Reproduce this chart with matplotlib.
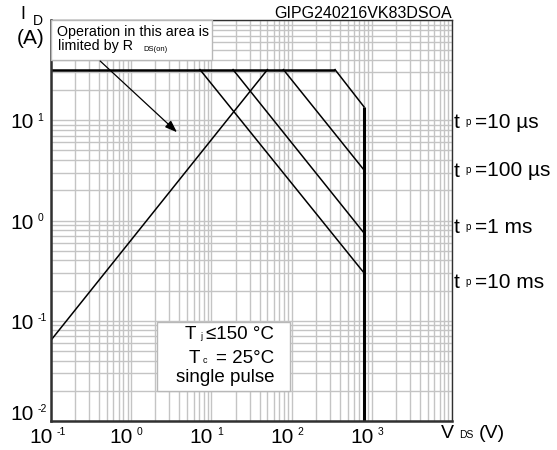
import numpy as np
import matplotlib
matplotlib.use('Agg')
import matplotlib.pyplot as plt
from matplotlib.ticker import LogLocator, NullFormatter
from matplotlib.patches import Rectangle

plt.rcParams['font.family'] = ['Liberation Sans', 'DejaVu Sans']

# valores
i_max = 32.0                 # limite de corrente (A)
v_max = 800.0                # limite de tensao (V)
i_lim_v = [0.1, 348]         # trecho horizontal do limite de corrente
rds_v = [0.1, 50]            # limite por R_DS(on)
rds_i = [0.064, 32]
tp_names = ['10 µs', '100 µs', '1 ms', '10 ms']
tp_v_knee = [348, 79, 18.6, 7.2]     # onde sai do limite de corrente
tp_i_end = [13.6, 3.19, 0.75, 0.30]  # corrente em V = v_max
tp_label_i = [8.3, 2.74, 0.745, 0.21]
i_min = 0.01

x_ticks = [1e-1, 1e0, 1e1, 1e2, 1e3, 1e4]
x_exps = ['-1', '0', '1', '2', '3', None]
y_ticks = [1e-2, 1e-1, 1e0, 1e1, 1e2]
y_exps = ['-2', '-1', '0', '1', None]

DESC = 0.21  # descida relativa da fonte (fracao do tamanho)


def rich(x, y, parts, xycoords, dx=0, dy=0, ha='left', **kw):
    """texto em pedacos com tamanhos/alturas diferentes (indices)
    parts: (texto, tamanho, subida_pt, espaco_pt)"""
    t0, fs0, r0, _ = parts[0]
    prev = ax.annotate(t0, xy=(x, y), xycoords=xycoords, xytext=(dx, dy + r0),
                       textcoords='offset points', fontsize=fs0, ha=ha,
                       va='baseline', **kw)
    pfs, pr = fs0, r0
    for t, fs, r, g in parts[1:]:
        prev = ax.annotate(t, xy=(1, 0), xycoords=prev,
                           xytext=(g, r - pr + DESC*pfs), textcoords='offset points',
                           fontsize=fs, ha='left', va='baseline', **kw)
        pfs, pr = fs, r
    return prev


fig = plt.figure(figsize=(5.57, 4.5), dpi=100)
ax = fig.add_axes([51/557, 29/450, 401/557, 401/450])
ax.set_xscale('log')
ax.set_yscale('log')
ax.set_xlim(0.1, 1e4)
ax.set_ylim(0.01, 100)

ax.xaxis.set_minor_locator(LogLocator(base=10, subs=np.arange(2, 10), numticks=20))
ax.yaxis.set_minor_locator(LogLocator(base=10, subs=np.arange(2, 10), numticks=20))
ax.xaxis.set_minor_formatter(NullFormatter())
ax.yaxis.set_minor_formatter(NullFormatter())
ax.set_xticks(x_ticks)
ax.set_xticklabels([])
ax.set_yticks(y_ticks)
ax.set_yticklabels([])
ax.tick_params(axis='both', which='both', length=0)

# rotulos dos eixos no estilo "10 expoente"
for xv, e in zip(x_ticks, x_exps):
    if e is not None:
        rich(xv, 0, [('10', 15, 0, 0), (e, 7.5, 5.3, 3)], ax.get_xaxis_transform(),
             dx=1.2, dy=-15.8, ha='right')
for yv, e in zip(y_ticks, y_exps):
    if e is not None:
        off = 0.7 if yv == y_ticks[0] else -5.8
        rich(0, yv, [('10', 15, 0, 0), (e, 7.5, 5.3, 3)], ax.get_yaxis_transform(),
             dx=-29.5, dy=off)

ax.grid(which='both', color='#c4c4c4', lw=1.0)
ax.set_axisbelow(True)
for s in ['left', 'bottom']:
    ax.spines[s].set_linewidth(1.8)
    ax.spines[s].set_color('#303030')
for s in ['top', 'right']:
    ax.spines[s].set_linewidth(1.0)
    ax.spines[s].set_color('#303030')

# curvas
ax.plot(i_lim_v, [i_max, i_max], color='k', lw=1.8, solid_capstyle='butt')
ax.plot(rds_v, rds_i, color='k', lw=1.1)
for vk, ie in zip(tp_v_knee, tp_i_end):
    ax.plot([vk, v_max], [i_max, ie], color='k', lw=1.1)
ax.plot([v_max, v_max], [tp_i_end[0], i_min], color='k', lw=2.2, solid_capstyle='butt')

# rotulos de t_p
for nome, yi in zip(tp_names, tp_label_i):
    rich(1.005, yi, [('t', 15, 0, 0), ('p', 7, 2.0, 4.3), ('=' + nome, 15, 0, 3)],
         ax.get_yaxis_transform())

# caixa R_DS(on)
ax.add_patch(Rectangle((0, 0.90), 0.401, 0.10, transform=ax.transAxes, facecolor='white',
                       edgecolor='#b8b8b8', lw=1.0, zorder=4, clip_on=False))
rich(0.015, 0.960, [('Operation in this area is', 10.3, 0, 0)], ax.transAxes, zorder=5)
rich(0.018, 0.925, [('limited by R', 10.3, 0, 0), ('DS(on)', 5.5, -0.8, 7)],
     ax.transAxes, zorder=5)
ax.annotate('', xy=(3.72, 7.6), xytext=(0.41, 39),
            arrowprops=dict(arrowstyle='-|>,head_length=0.6,head_width=0.22', color='k',
                            lw=0.9, mutation_scale=12, shrinkA=0, shrinkB=0), zorder=5)

# caixa de condicoes
ax.add_patch(Rectangle((0.264, 0.075), 0.332, 0.173, transform=ax.transAxes,
                       facecolor='white', edgecolor='#b8b8b8', lw=1.0, zorder=4))
rich(0.334, (421-339.3)/401, [('T', 13.5, 0, 0), ('j', 6.5, 0, 2.5), ('≤150 °C', 13.5, 0, 3)],
     ax.transAxes, zorder=5)
rich(0.342, (421-362.7)/401, [('T', 13.5, 0, 0), ('c', 6.5, 0, 2.5), ('= 25°C', 13.5, 0, 6)],
     ax.transAxes, zorder=5)
rich(0.312, (421-381.7)/401, [('single pulse', 13.5, 0, 0)], ax.transAxes, zorder=5)

# titulos
ax.text(1.0, 1.005, 'GIPG240216VK83DSOA', transform=ax.transAxes,
        ha='right', va='baseline', fontsize=11.5)
rich(20.5/557, 1-19.3/450, [('I', 13, 0, 0), ('D', 10, -4, 5)], 'figure fraction')
rich(17/557, 1-44.5/450, [('(A)', 15, 0, 0)], 'figure fraction')
rich(441/557, 1-438/450, [('V', 14, 0, 0), ('DS', 7.5, 0, 3.6), ('(V)', 14, 0, 4)],
     'figure fraction')

fig.savefig('out.png', dpi=100)
